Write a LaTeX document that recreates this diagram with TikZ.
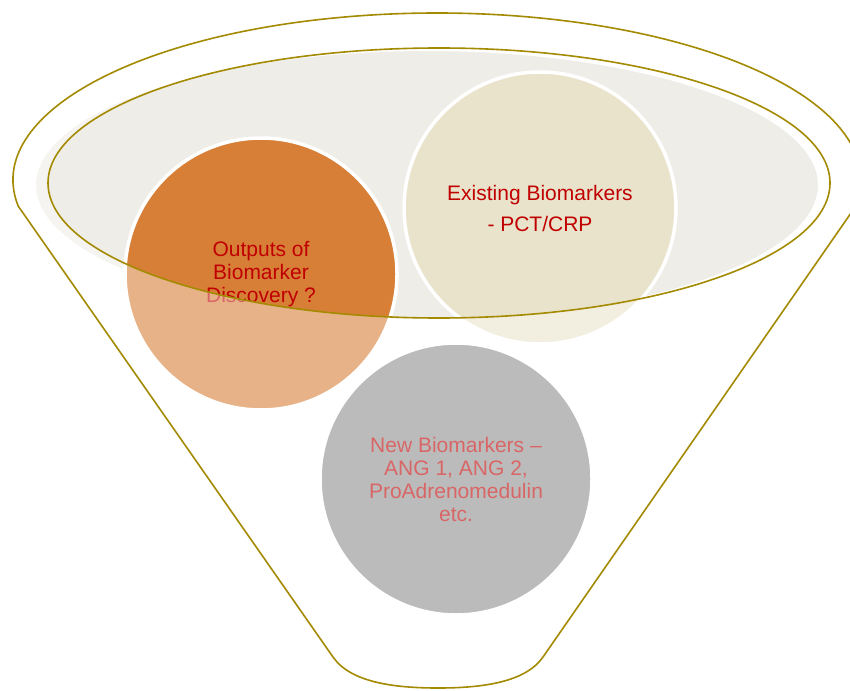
\documentclass[tikz,border=0pt]{standalone}
\usepackage{fontspec}
\setmainfont{Liberation Sans}
\usepackage{xcolor}

\definecolor{funnelgold}{RGB}{163,138,0}
\definecolor{glassgray}{RGB}{239,237,232}
\definecolor{markerorange}{RGB}{216,127,55}
\definecolor{markerbeige}{RGB}{234,227,204}
\definecolor{markergray}{RGB}{143,143,143}
\definecolor{markerred}{RGB}{192,0,0}

\begin{document}
\begin{tikzpicture}[
    x=1pt, y=-1pt,
    ball/.style={circle, draw=white, line width=3.5pt, minimum size=272pt, inner sep=0pt, align=center, text=markerred, font=\fontsize{21}{23}\selectfont},
    rim/.style={draw=funnelgold, line width=1.6pt},
]
\useasboundingbox (0,0) rectangle (850,690);
% glass surface behind the balls
\filldraw[fill=glassgray, draw=white, line width=2pt] (427,185) ellipse [x radius=392, y radius=135];
% the three balls
\node[ball, fill=markerorange] (outputs) at (261,274) {Outputs of\\Biomarker\\Discovery ?};
\node[ball, fill=markerbeige] (existing) at (540,208) {Existing Biomarkers\\[8pt]- PCT/CRP};
\node[ball, fill=markergray] (new) at (456,479) {New Biomarkers --\\ANG 1, ANG 2,\\ProAdrenomedulin\\etc.};
% white haze outside the inner rim
\fill[white, opacity=0.4, even odd rule] (0,0) rectangle (850,690) (439,183) ellipse [x radius=391, y radius=135];
% funnel body
\draw[rim] (437,180) ++(171:424 and 167) coordinate (lefttop)
    arc[start angle=171, end angle=369, x radius=424, y radius=167] coordinate (righttop)
    -- (543,657) .. controls (525,683) and (480,688) .. (438,688)
    .. controls (396,688) and (351,683) .. (333,657) -- cycle;
% inner rim
\draw[rim] (439,183) ellipse [x radius=391, y radius=135];
\end{tikzpicture}
\end{document}
